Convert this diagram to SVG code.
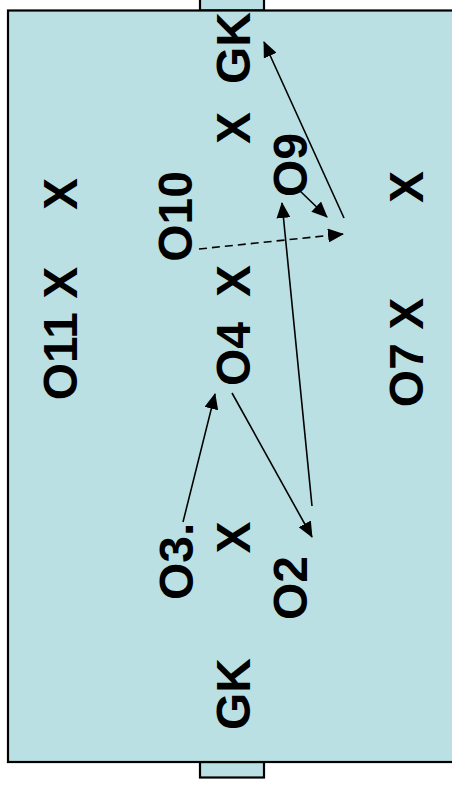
<svg xmlns="http://www.w3.org/2000/svg" width="452" height="788" viewBox="0 0 452 788">
<style>
.fld{fill:#BBE0E3;stroke:#000;stroke-width:2.2}
.t{font-family:"Liberation Sans",Arial,sans-serif;font-weight:bold;font-size:48px;fill:#000}
.ln{stroke:#000;stroke-width:1.6;fill:none}
.ds{stroke-dasharray:8,5}
</style>
<defs>
<marker id="ah" markerUnits="userSpaceOnUse" markerWidth="16" markerHeight="14" refX="15" refY="7" orient="auto">
<path d="M0,0 L16,7 L0,14 Z" fill="#000"/>
</marker>
</defs>
<g id="field">
<rect class="fld" x="200" y="-5" width="64" height="15.5"/>
<rect class="fld" x="200" y="762" width="64" height="15.5"/>
<rect class="fld" x="8" y="10.5" width="460" height="751.5"/>
</g>
<g id="connectors">
<line class="ln" x1="344" y1="218" x2="264" y2="42" marker-end="url(#ah)"/>
<line class="ln" x1="299" y1="190" x2="327" y2="217" marker-end="url(#ah)"/>
<line class="ln ds" x1="199" y1="249" x2="343" y2="234" marker-end="url(#ah)"/>
<line class="ln" x1="312" y1="506" x2="282" y2="203" marker-end="url(#ah)"/>
<line class="ln" x1="183" y1="522" x2="215" y2="394" marker-end="url(#ah)"/>
<line class="ln" x1="232" y1="393" x2="312" y2="537" marker-end="url(#ah)"/>
</g>
<g id="gk-top"><text class="t" text-anchor="middle" transform="translate(250,48) rotate(-90)">GK</text></g>
<g id="x-top"><text class="t" text-anchor="middle" transform="translate(250,128) rotate(-90)">X</text></g>
<g id="o9"><text class="t" text-anchor="middle" transform="translate(307,165) rotate(-90)">O9</text></g>
<g id="x-right"><text class="t" text-anchor="middle" transform="translate(423,187) rotate(-90)">X</text></g>
<g id="o7"><text class="t" text-anchor="middle" transform="translate(423,352.5) rotate(-90)">O7 X</text></g>
<g id="x-left"><text class="t" text-anchor="middle" transform="translate(77,194) rotate(-90)">X</text></g>
<g id="o11"><text class="t" text-anchor="middle" transform="translate(77,333.5) rotate(-90)">O11 X</text></g>
<g id="o10"><text class="t" text-anchor="middle" transform="translate(192,216.5) rotate(-90)">O10</text></g>
<g id="x-mid"><text class="t" text-anchor="middle" transform="translate(250,281) rotate(-90)">X</text></g>
<g id="o4"><text class="t" text-anchor="middle" transform="translate(250,354) rotate(-90)">O4</text></g>
<g id="o3"><text class="t" text-anchor="start" transform="translate(193,600) rotate(-90)">O3.</text></g>
<g id="x-low"><text class="t" text-anchor="middle" transform="translate(250,537.5) rotate(-90)">X</text></g>
<g id="o2"><text class="t" text-anchor="middle" transform="translate(307,588) rotate(-90)">O2</text></g>
<g id="gk-bottom"><text class="t" text-anchor="middle" transform="translate(250,694) rotate(-90)">GK</text></g>
</svg>
